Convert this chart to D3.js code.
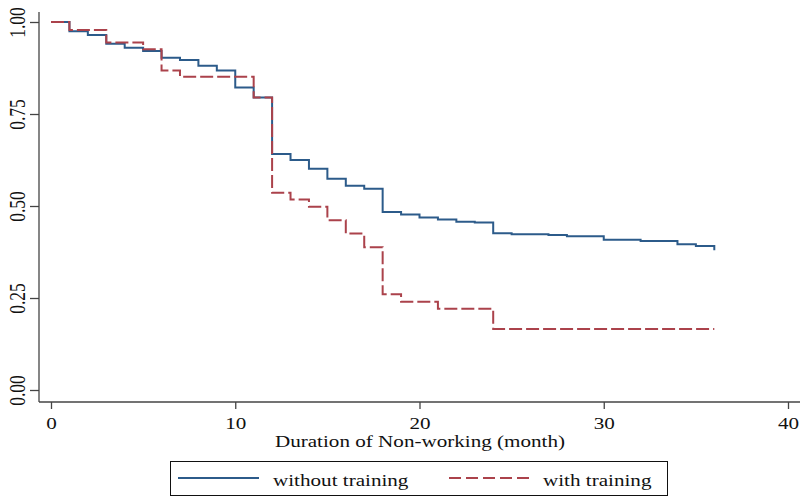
<!DOCTYPE html>
<html>
<head>
<meta charset="UTF-8"/>
<style>
  body { margin: 0; background: #fff; }
  text { font-family: "Liberation Serif", "Times New Roman", serif; fill: #111; }
</style>
</head>
<body>
<script src="https://d3js.org/d3.v7.min.js"></script>
<script>
// Kaplan-Meier survival estimates
var noTrainMonths = [0, 1, 2, 3, 4, 5, 6, 7, 8, 9, 10, 11, 12, 13, 14, 15, 16, 17, 18, 19, 20, 21, 22, 23, 24, 25, 27, 28, 30, 32, 34, 35, 36];
var noTrainSurv = [1.000, 0.975, 0.965, 0.941, 0.930, 0.921, 0.903, 0.897, 0.881, 0.868, 0.822, 0.795, 0.641, 0.625, 0.601, 0.574, 0.555, 0.547, 0.484, 0.477, 0.469, 0.463, 0.457, 0.455, 0.426, 0.423, 0.421, 0.418, 0.408, 0.405, 0.396, 0.391, 0.380];
var trainMonths = [0, 1, 3, 5, 6, 7, 11, 12, 13, 14, 15, 16, 17, 18, 19, 21, 24, 36];
var trainSurv = [1.000, 0.978, 0.944, 0.926, 0.868, 0.851, 0.795, 0.536, 0.518, 0.498, 0.461, 0.425, 0.388, 0.260, 0.240, 0.221, 0.166, 0.166];
var xTicks = [0, 10, 20, 30, 40];
var yTicks = [0, 0.25, 0.5, 0.75, 1];
var seriesNames = ["without training", "with training"];

var width = 800, height = 496;
var sx = 1.28; // glyphs in the picture are wider than tall

var svg = d3.select("body").append("svg")
    .attr("width", width)
    .attr("height", height);

var x = d3.scaleLinear().domain([0, 40]).range([51, 788]);
var y = d3.scaleLinear().domain([0, 1]).range([390, 22]);

var axisColor = "#444";

// x axis
var gx = svg.append("g")
    .attr("transform", "translate(0,402)")
    .call(d3.axisBottom(x).tickValues(xTicks).tickSize(7).tickSizeOuter(0).tickFormat(d3.format("d")));
gx.select(".domain").remove();
gx.append("line").attr("x1", 39).attr("x2", 800).attr("stroke", axisColor).attr("stroke-width", 1.3);
gx.selectAll(".tick line").attr("stroke", axisColor).attr("stroke-width", 1.3);
gx.selectAll(".tick text")
    .attr("y", 0).attr("dy", 0)
    .attr("transform", "translate(0,27) scale(" + sx + ",1)")
    .style("font-size", "16.5px")
    .attr("fill", "#111");

// y axis
var gy = svg.append("g")
    .attr("transform", "translate(39,0)")
    .call(d3.axisLeft(y).tickValues(yTicks).tickSize(9).tickSizeOuter(0).tickFormat(d3.format(".2f")));
gy.select(".domain").remove();
gy.append("line").attr("y1", 12).attr("y2", 402).attr("stroke", axisColor).attr("stroke-width", 1.3);
gy.selectAll(".tick line").attr("stroke", axisColor).attr("stroke-width", 1.3);
gy.selectAll(".tick text")
    .attr("x", 0).attr("dy", 0)
    .attr("text-anchor", "middle")
    .attr("transform", "translate(-14,0) scale(" + sx + ",1) rotate(-90)")
    .style("font-size", "17.5px")
    .attr("fill", "#111");

// axis title
svg.append("text")
    .attr("transform", "translate(420,447) scale(" + sx + ",1)")
    .attr("text-anchor", "middle")
    .style("font-size", "16.5px")
    .text("Duration of Non-working (month)");

// survival curves
var line = d3.line()
    .x(function(d) { return x(d[0]); })
    .y(function(d) { return y(d[1]); })
    .curve(d3.curveStepAfter);

var blue = "#2c5b8a";
var red = "#ab424b";

svg.append("path")
    .datum(d3.zip(noTrainMonths, noTrainSurv))
    .attr("d", line)
    .attr("fill", "none")
    .attr("stroke", blue)
    .attr("stroke-width", 2);

svg.append("path")
    .datum(d3.zip(trainMonths, trainSurv))
    .attr("d", line)
    .attr("fill", "none")
    .attr("stroke", red)
    .attr("stroke-width", 2)
    .attr("stroke-dasharray", "13,4");

// legend
var lg = svg.append("g");
lg.append("rect")
    .attr("x", 170.5).attr("y", 461.5)
    .attr("width", 497).attr("height", 34)
    .attr("fill", "#fff").attr("stroke", "#111").attr("stroke-width", 1);

var legendItems = [
    {name: seriesNames[0], color: blue, dash: null, x0: 178, tx: 273},
    {name: seriesNames[1], color: red, dash: "12,5", x0: 449, tx: 543}
];
legendItems.forEach(function(it) {
    lg.append("line")
        .attr("x1", it.x0).attr("x2", it.x0 + 81)
        .attr("y1", 478).attr("y2", 478)
        .attr("stroke", it.color).attr("stroke-width", 2)
        .attr("stroke-dasharray", it.dash);
    lg.append("text")
        .attr("transform", "translate(" + it.tx + ",486) scale(" + sx + ",1)")
        .style("font-size", "16.5px")
        .text(it.name);
});
</script>
</body>
</html>
